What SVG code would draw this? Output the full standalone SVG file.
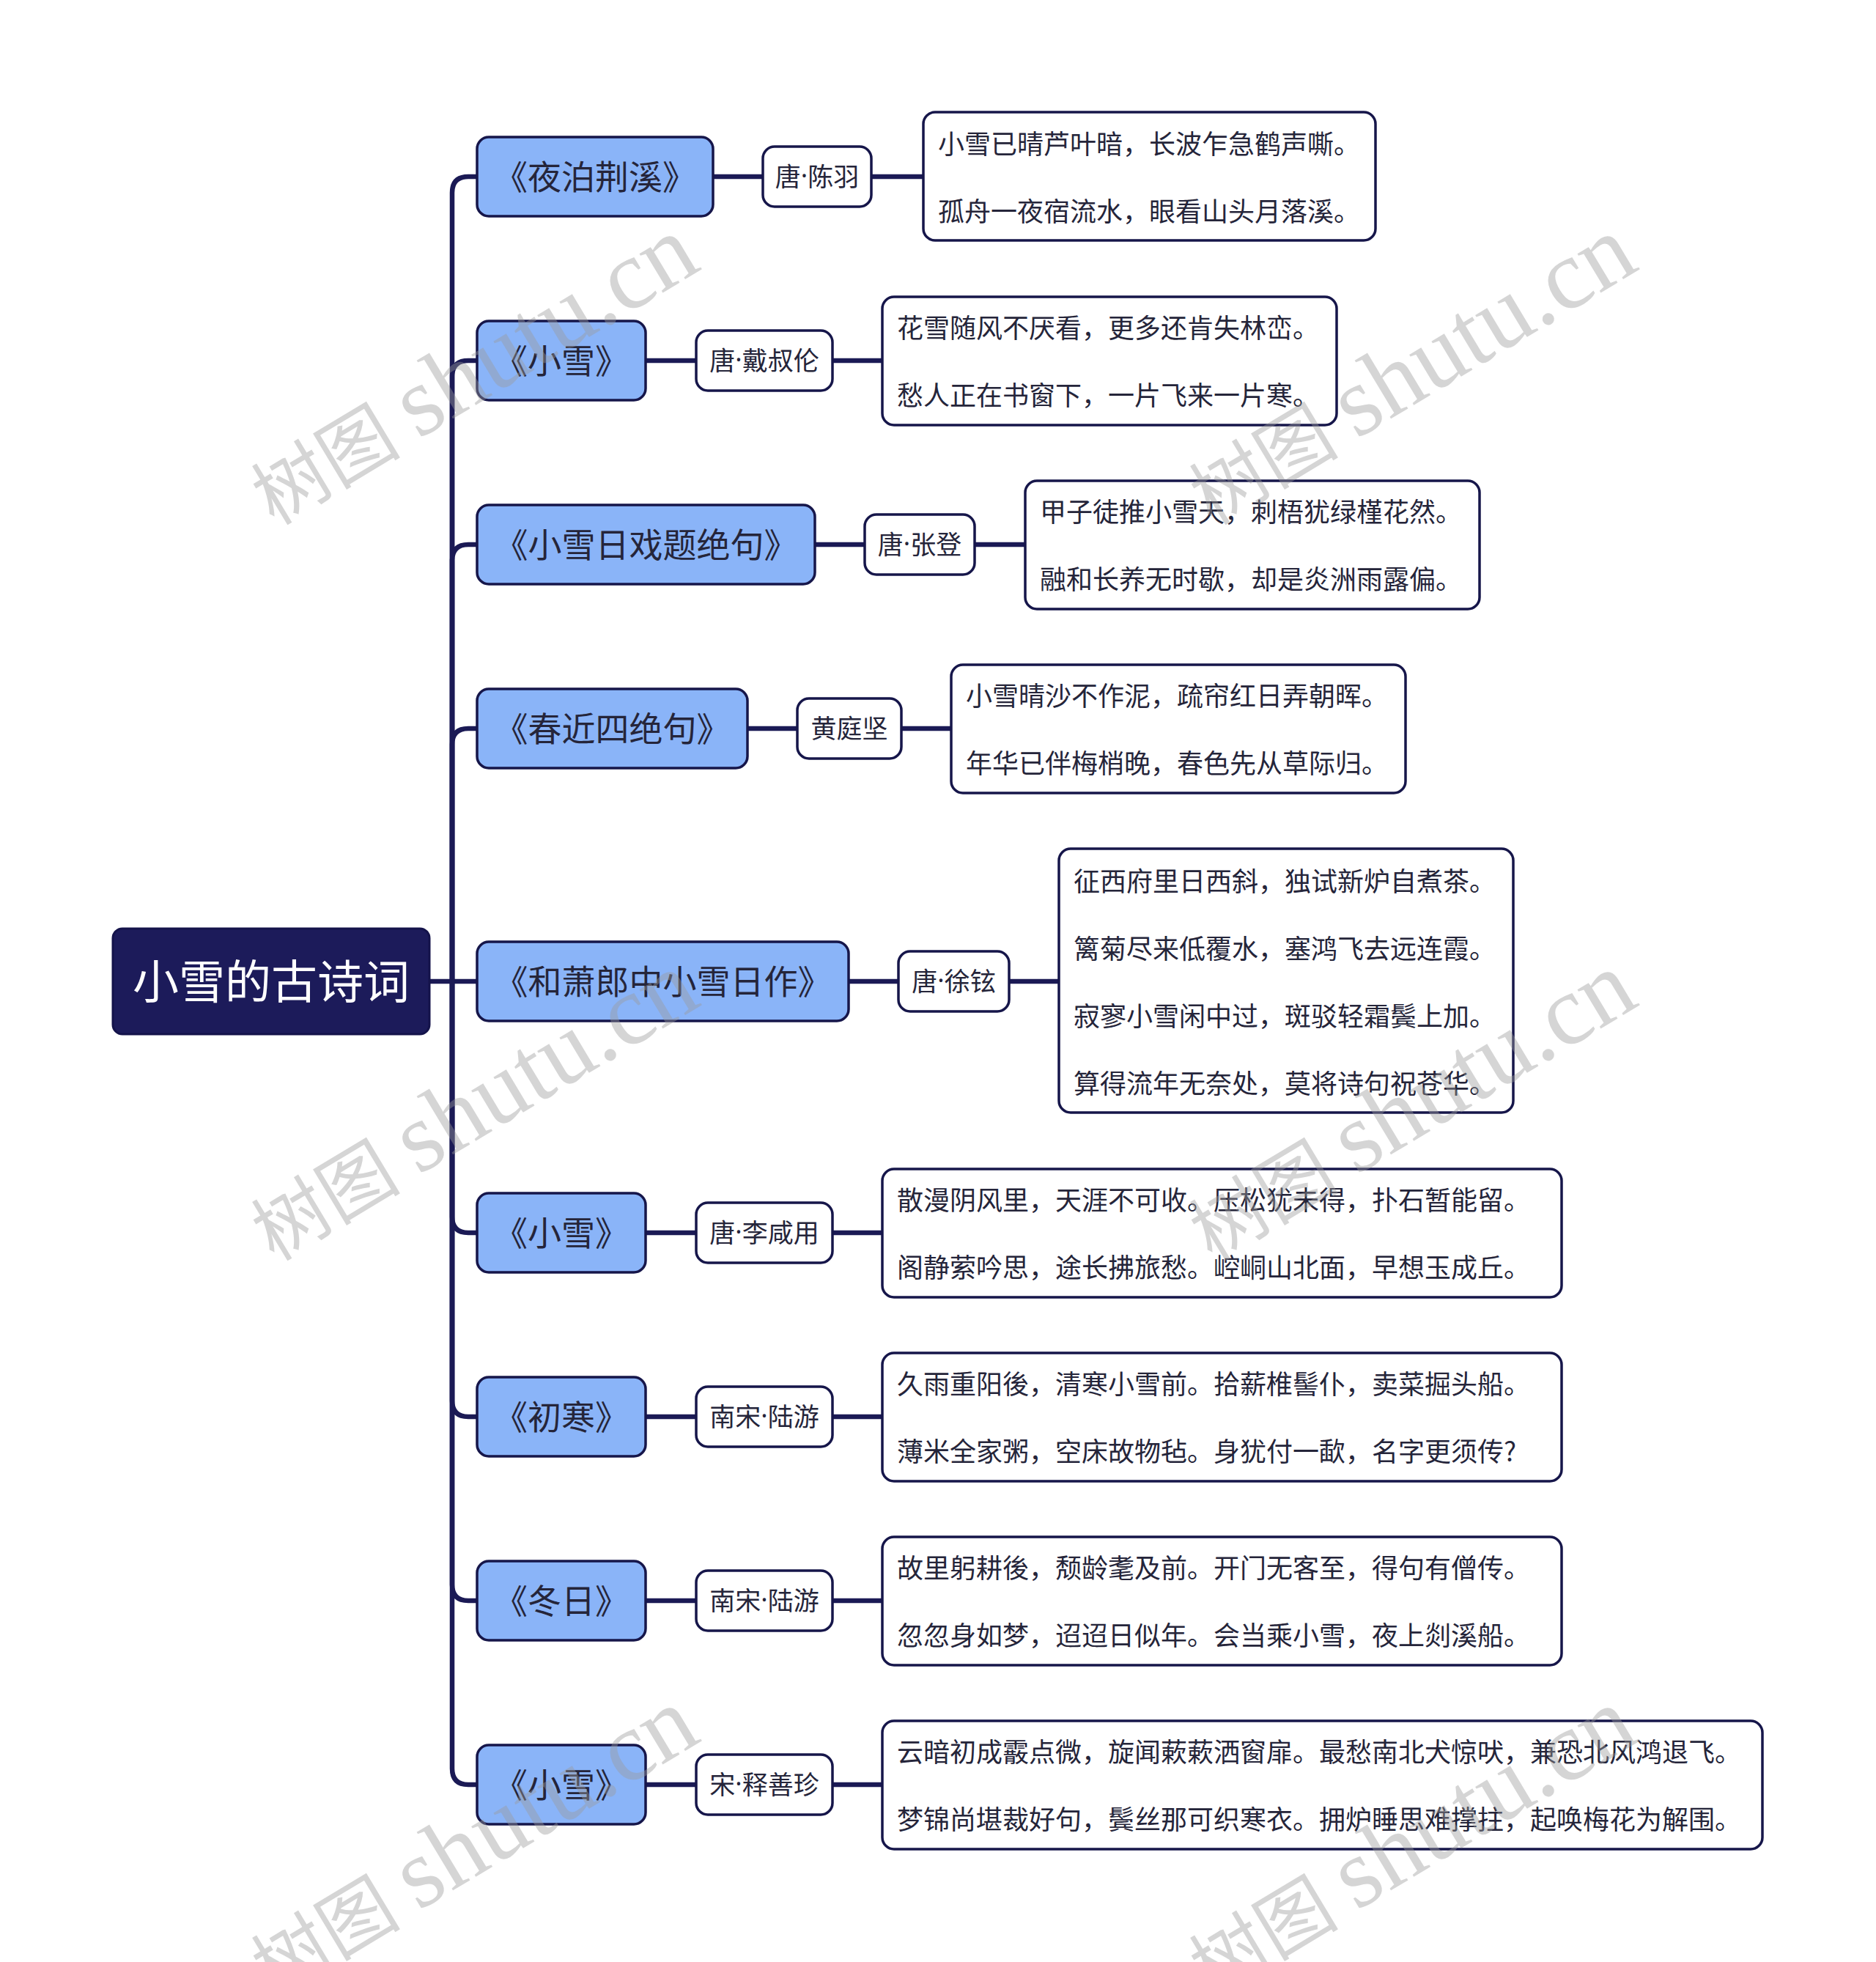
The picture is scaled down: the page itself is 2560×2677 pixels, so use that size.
<svg xmlns="http://www.w3.org/2000/svg" width="2560" height="2677" viewBox="0 0 2560 2677">
<style>
.root{fill:#1c1b5a;stroke:#14134a;stroke-width:3}
.br{fill:#8ab4f8;stroke:#16164a;stroke-width:3.5}
.au{fill:#ffffff;stroke:#16164a;stroke-width:3.5}
.po{fill:#ffffff;stroke:#16164a;stroke-width:3.5}
.cn{fill:none;stroke:#1b1a55;stroke-width:6.5;stroke-linecap:butt}
text{font-family:"Noto Sans CJK SC","Noto Sans",sans-serif;dominant-baseline:central}
.rt{font-size:63px;fill:#ffffff;text-anchor:middle}
.bt{font-size:46px;fill:#25253a;text-anchor:middle}
.at{font-size:35px;fill:#25253a;text-anchor:middle}
.pt{font-size:36px;fill:#25253a}
.d{font-family:"Noto Sans","Liberation Sans",sans-serif}
.wm{font-family:"Liberation Serif","Noto Sans CJK SC",serif;fill:#9a9a9a;fill-opacity:0.42;dominant-baseline:auto}
</style>
<rect width="2560" height="2677" fill="#ffffff"/>
<g id="connectors">
<path class="cn" d="M586 1339 H651"/>
<path class="cn" d="M617 1339 V263 Q617 241 639 241 H651"/>
<path class="cn" d="M617 1339 V514 Q617 492 639 492 H651"/>
<path class="cn" d="M617 1339 V765 Q617 743 639 743 H651"/>
<path class="cn" d="M617 1339 V1016 Q617 994 639 994 H651"/>
<path class="cn" d="M617 1339 V1660 Q617 1682 639 1682 H651"/>
<path class="cn" d="M617 1339 V1911 Q617 1933 639 1933 H651"/>
<path class="cn" d="M617 1339 V2162 Q617 2184 639 2184 H651"/>
<path class="cn" d="M617 1339 V2413 Q617 2435 639 2435 H651"/>
<path class="cn" d="M973 241 H1041 M1189 241 H1260"/>
<path class="cn" d="M881 492 H950 M1136 492 H1204"/>
<path class="cn" d="M1112 743 H1180 M1330 743 H1399"/>
<path class="cn" d="M1020 994 H1088 M1230 994 H1298"/>
<path class="cn" d="M1158 1339 H1226 M1377 1339 H1445"/>
<path class="cn" d="M881 1682 H950 M1136 1682 H1204"/>
<path class="cn" d="M881 1933 H950 M1136 1933 H1204"/>
<path class="cn" d="M881 2184 H950 M1136 2184 H1204"/>
<path class="cn" d="M881 2435 H950 M1136 2435 H1204"/>
</g>
<g id="root">
<rect class="root" x="154" y="1267" width="432" height="144" rx="13"/>
<text class="rt" x="370" y="1334">小雪的古诗词</text>
</g>
<g id="b1">
<rect class="br" x="651" y="187" width="322" height="108" rx="16"/>
<text class="bt" x="812" y="238">《夜泊荆溪》</text>
</g>
<g id="a1">
<rect class="au" x="1041" y="200" width="148" height="82" rx="16"/>
<text class="at" x="1115" y="238">唐<tspan class="d">·</tspan>陈羽</text>
</g>
<g id="p1">
<rect class="po" x="1260" y="153" width="617" height="175" rx="16"/>
<text class="pt" x="1280" y="194">小雪已晴芦叶暗，长波乍急鹤声嘶。</text>
<text class="pt" x="1280" y="286">孤舟一夜宿流水，眼看山头月落溪。</text>
</g>
<g id="b2">
<rect class="br" x="651" y="438" width="230" height="108" rx="16"/>
<text class="bt" x="766" y="489">《小雪》</text>
</g>
<g id="a2">
<rect class="au" x="950" y="451" width="186" height="82" rx="16"/>
<text class="at" x="1043" y="489">唐<tspan class="d">·</tspan>戴叔伦</text>
</g>
<g id="p2">
<rect class="po" x="1204" y="405" width="620" height="175" rx="16"/>
<text class="pt" x="1224" y="445">花雪随风不厌看，更多还肯失林峦。</text>
<text class="pt" x="1224" y="537">愁人正在书窗下，一片飞来一片寒。</text>
</g>
<g id="b3">
<rect class="br" x="651" y="689" width="461" height="108" rx="16"/>
<text class="bt" x="881.5" y="740">《小雪日戏题绝句》</text>
</g>
<g id="a3">
<rect class="au" x="1180" y="702" width="150" height="82" rx="16"/>
<text class="at" x="1255" y="740">唐<tspan class="d">·</tspan>张登</text>
</g>
<g id="p3">
<rect class="po" x="1399" y="656" width="620" height="175" rx="16"/>
<text class="pt" x="1419" y="696">甲子徒推小雪天，刺梧犹绿槿花然。</text>
<text class="pt" x="1419" y="788">融和长养无时歇，却是炎洲雨露偏。</text>
</g>
<g id="b4">
<rect class="br" x="651" y="940" width="369" height="108" rx="16"/>
<text class="bt" x="835.5" y="991">《春近四绝句》</text>
</g>
<g id="a4">
<rect class="au" x="1088" y="953" width="142" height="82" rx="16"/>
<text class="at" x="1159" y="991">黄庭坚</text>
</g>
<g id="p4">
<rect class="po" x="1298" y="907" width="620" height="175" rx="16"/>
<text class="pt" x="1318" y="947">小雪晴沙不作泥，疏帘红日弄朝晖。</text>
<text class="pt" x="1318" y="1039">年华已伴梅梢晚，春色先从草际归。</text>
</g>
<g id="b5">
<rect class="br" x="651" y="1285" width="507" height="108" rx="16"/>
<text class="bt" x="904.5" y="1336">《和萧郎中小雪日作》</text>
</g>
<g id="a5">
<rect class="au" x="1226" y="1298" width="151" height="82" rx="16"/>
<text class="at" x="1301.5" y="1336">唐<tspan class="d">·</tspan>徐铉</text>
</g>
<g id="p5">
<rect class="po" x="1445" y="1158" width="620" height="360" rx="16"/>
<text class="pt" x="1465" y="1200">征西府里日西斜，独试新炉自煮茶。</text>
<text class="pt" x="1465" y="1292">篱菊尽来低覆水，塞鸿飞去远连霞。</text>
<text class="pt" x="1465" y="1384">寂寥小雪闲中过，斑驳轻霜鬓上加。</text>
<text class="pt" x="1465" y="1476">算得流年无奈处，莫将诗句祝苍华。</text>
</g>
<g id="b6">
<rect class="br" x="651" y="1628" width="230" height="108" rx="16"/>
<text class="bt" x="766" y="1679">《小雪》</text>
</g>
<g id="a6">
<rect class="au" x="950" y="1641" width="186" height="82" rx="16"/>
<text class="at" x="1043" y="1679">唐<tspan class="d">·</tspan>李咸用</text>
</g>
<g id="p6">
<rect class="po" x="1204" y="1595" width="927" height="175" rx="16"/>
<text class="pt" x="1224" y="1635">散漫阴风里，天涯不可收。压松犹未得，扑石暂能留。</text>
<text class="pt" x="1224" y="1727">阁静萦吟思，途长拂旅愁。崆峒山北面，早想玉成丘。</text>
</g>
<g id="b7">
<rect class="br" x="651" y="1879" width="230" height="108" rx="16"/>
<text class="bt" x="766" y="1930">《初寒》</text>
</g>
<g id="a7">
<rect class="au" x="950" y="1892" width="186" height="82" rx="16"/>
<text class="at" x="1043" y="1930">南宋<tspan class="d">·</tspan>陆游</text>
</g>
<g id="p7">
<rect class="po" x="1204" y="1846" width="927" height="175" rx="16"/>
<text class="pt" x="1224" y="1886">久雨重阳後，清寒小雪前。拾薪椎髻仆，卖菜掘头船。</text>
<text class="pt" x="1224" y="1978">薄米全家粥，空床故物毡。身犹付一歃，名字更须传?</text>
</g>
<g id="b8">
<rect class="br" x="651" y="2130" width="230" height="108" rx="16"/>
<text class="bt" x="766" y="2181">《冬日》</text>
</g>
<g id="a8">
<rect class="au" x="950" y="2143" width="186" height="82" rx="16"/>
<text class="at" x="1043" y="2181">南宋<tspan class="d">·</tspan>陆游</text>
</g>
<g id="p8">
<rect class="po" x="1204" y="2097" width="927" height="175" rx="16"/>
<text class="pt" x="1224" y="2137">故里躬耕後，颓龄耄及前。开门无客至，得句有僧传。</text>
<text class="pt" x="1224" y="2229">忽忽身如梦，迢迢日似年。会当乘小雪，夜上剡溪船。</text>
</g>
<g id="b9">
<rect class="br" x="651" y="2381" width="230" height="108" rx="16"/>
<text class="bt" x="766" y="2432">《小雪》</text>
</g>
<g id="a9">
<rect class="au" x="950" y="2394" width="186" height="82" rx="16"/>
<text class="at" x="1043" y="2432">宋<tspan class="d">·</tspan>释善珍</text>
</g>
<g id="p9">
<rect class="po" x="1204" y="2348" width="1201" height="175" rx="16"/>
<text class="pt" x="1224" y="2388">云暗初成霰点微，旋闻蔌蔌洒窗扉。最愁南北犬惊吠，兼恐北风鸿退飞。</text>
<text class="pt" x="1224" y="2480">梦锦尚堪裁好句，鬓丝那可织寒衣。拥炉睡思难撑拄，起唤梅花为解围。</text>
</g>
<g id="watermark">
<text class="wm" transform="translate(374 718) rotate(-31)"><tspan font-size="102">树图 </tspan><tspan font-size="135">shutu.cn</tspan></text>
<text class="wm" transform="translate(1654 718) rotate(-31)"><tspan font-size="102">树图 </tspan><tspan font-size="135">shutu.cn</tspan></text>
<text class="wm" transform="translate(374 1722) rotate(-31)"><tspan font-size="102">树图 </tspan><tspan font-size="135">shutu.cn</tspan></text>
<text class="wm" transform="translate(1654 1722) rotate(-31)"><tspan font-size="102">树图 </tspan><tspan font-size="135">shutu.cn</tspan></text>
<text class="wm" transform="translate(374 2726) rotate(-31)"><tspan font-size="102">树图 </tspan><tspan font-size="135">shutu.cn</tspan></text>
<text class="wm" transform="translate(1654 2726) rotate(-31)"><tspan font-size="102">树图 </tspan><tspan font-size="135">shutu.cn</tspan></text>
</g>
</svg>
